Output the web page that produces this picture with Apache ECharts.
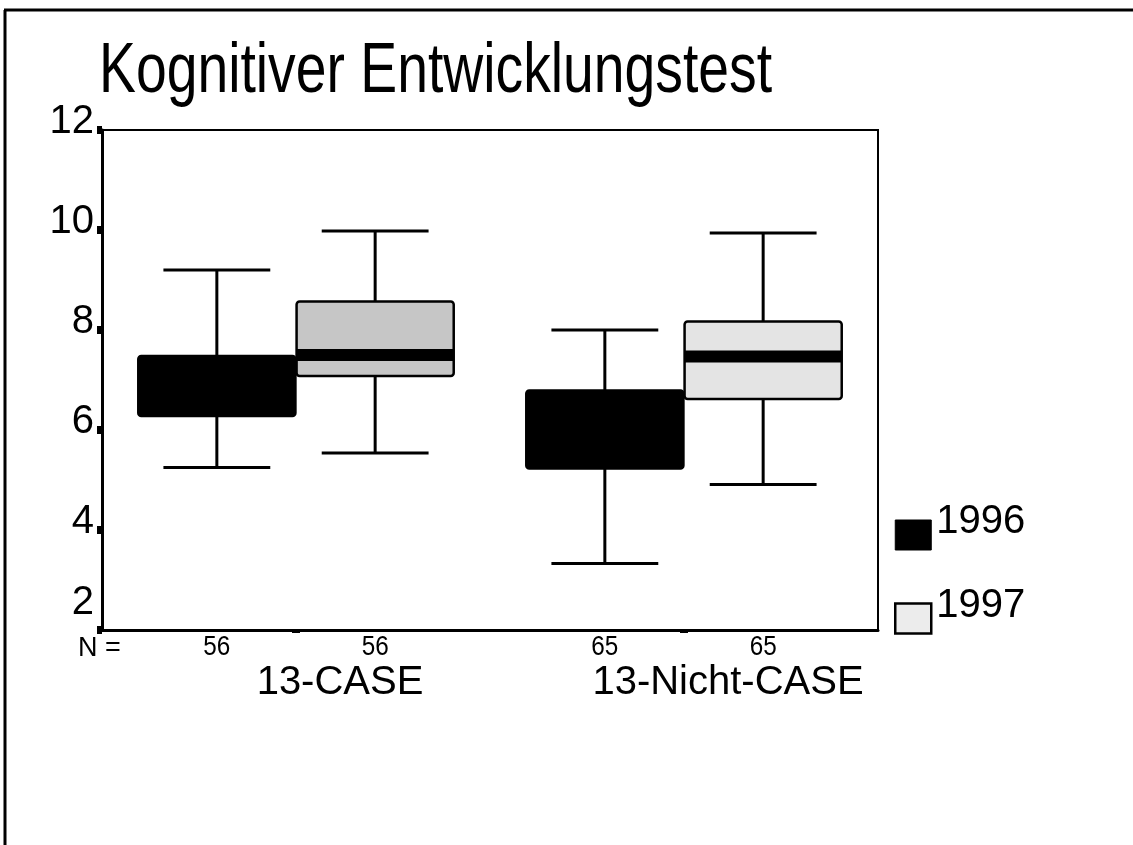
<!DOCTYPE html>
<html>
<head>
<meta charset="utf-8">
<script src="https://cdn.jsdelivr.net/npm/echarts@6/dist/echarts.min.js"></script>
<style>
html,body{margin:0;padding:0;background:#fff;}
#chart{width:1133px;height:845px;}
</style>
</head>
<body>
<div id="chart"></div>
<script>
// ---- data ----
const titleText = 'Kognitiver Entwicklungstest';
const categories = ['13-CASE', '13-Nicht-CASE'];
const seriesNames = ['1996', '1997'];
// [min, q1, median, q3, max]
const stats1996 = [[5.25, 6.28, 6.9, 7.48, 9.2], [3.33, 5.23, 6.0, 6.79, 8.0]];
const stats1997 = [[5.54, 7.08, 7.5, 8.57, 9.98], [4.91, 6.62, 7.47, 8.17, 9.94]];
const nCounts1996 = [56, 65];
const nCounts1997 = [56, 65];
const yTicks = [2, 4, 6, 8, 10, 12];

// ---- build ----
const FONT = "'Liberation Sans', Arial, sans-serif";
const chart = echarts.init(document.getElementById('chart'), null, {renderer: 'canvas'});

function rows(stats, ns) {
  return stats.map((s, i) => [i, s[0], s[1], s[2], s[3], s[4], ns[i]]);
}

const fills1997 = ['#c6c6c6', '#e4e4e4'];

function makeRender(side, isDark) {
  return function (params, api) {
    const cat = api.value(0);
    const band = api.size([1, 0])[0];
    const bw = band * 0.405;
    const cx = api.coord([cat, 0])[0] + side * band * 0.204;
    const yv = i => api.coord([cat, api.value(i)])[1];
    const yMin = yv(1), yQ1 = yv(2), yMed = yv(3), yQ3 = yv(4), yMax = yv(5);
    const capW = bw * 0.68;
    const yBase = api.coord([cat, yTicks[0]])[1];
    const lineStyle = {stroke: '#000', lineWidth: 3};
    const fill = isDark ? '#000' : fills1997[cat];
    return {
      type: 'group',
      children: [
        {type: 'line', shape: {x1: cx, y1: yMax, x2: cx, y2: yQ3}, style: lineStyle},
        {type: 'line', shape: {x1: cx, y1: yQ1, x2: cx, y2: yMin}, style: lineStyle},
        {type: 'line', shape: {x1: cx - capW / 2, y1: yMax, x2: cx + capW / 2, y2: yMax}, style: lineStyle},
        {type: 'line', shape: {x1: cx - capW / 2, y1: yMin, x2: cx + capW / 2, y2: yMin}, style: lineStyle},
        {type: 'rect', shape: {x: cx - bw / 2, y: yQ3, width: bw, height: yQ1 - yQ3, r: 3},
          style: {fill: fill, stroke: '#000', lineWidth: 2.5}},
        {type: 'rect', shape: {x: cx - bw / 2, y: yMed - 6, width: bw, height: 12},
          style: {fill: '#000'}},
        {type: 'text', x: cx, y: yBase + 18, scaleX: 0.9,
          style: {text: String(api.value(6)), fontFamily: FONT, fontSize: 27, fill: '#000',
            align: 'center', verticalAlign: 'middle'}}
      ]
    };
  };
}

const option = {
  backgroundColor: '#fff',
  animation: false,
  legend: {
    orient: 'vertical',
    left: 889, top: 497,
    itemWidth: 36, itemHeight: 30, itemGap: 35,
    icon: 'rect',
    formatter: '{t|{name}}',
    textStyle: {
      fontFamily: FONT, fontSize: 40, color: '#000',
      rich: {t: {fontFamily: FONT, fontSize: 40, color: '#000', padding: [0, 0, 26, 0]}}
    },
    data: [
      {name: seriesNames[0], itemStyle: {color: '#000', borderColor: '#000', borderWidth: 1}},
      {name: seriesNames[1], itemStyle: {color: '#ececec', borderColor: '#000', borderWidth: 2.5}}
    ]
  },
  grid: {left: 102, top: 130, width: 776, height: 500, show: true, borderColor: '#000', borderWidth: 2},
  xAxis: {
    type: 'category',
    data: categories,
    axisLine: {lineStyle: {color: '#000', width: 3}},
    axisTick: {show: true, alignWithLabel: true, length: 3, lineStyle: {color: '#000', width: 8}},
    axisLabel: {fontFamily: FONT, fontSize: 40, color: '#000', margin: 33, padding: [0, 0, 0, 88]},
    splitLine: {show: false}
  },
  yAxis: {
    type: 'value',
    min: 2, max: 12, interval: 2,
    axisLine: {show: true, lineStyle: {color: '#000', width: 3}},
    axisTick: {show: true, length: 5, lineStyle: {color: '#000', width: 8}},
    axisLabel: {
      fontFamily: FONT, fontSize: 40, color: '#000', margin: 8,
      formatter: v => yTicks.indexOf(v) >= 0 ? (v === yTicks[0] ? '{low|' + v + '}' : '{n|' + v + '}') : '',
      rich: {
        n: {fontFamily: FONT, fontSize: 40, color: '#000', padding: [0, 0, 16, 0]},
        low: {fontFamily: FONT, fontSize: 40, color: '#000', padding: [0, 0, 54, 0]}
      }
    },
    splitLine: {show: false}
  },
  graphic: [
    {type: 'line', shape: {x1: 4, y1: 10, x2: 1133, y2: 10}, style: {stroke: '#000', lineWidth: 3}},
    {type: 'line', shape: {x1: 5, y1: 10, x2: 5, y2: 845}, style: {stroke: '#000', lineWidth: 3}},
    {type: 'text', x: 99, y: 38, scaleX: 0.79,
      style: {text: titleText, fontFamily: FONT, fontSize: 70, fill: '#000'}},
    {type: 'text', left: 78, top: 635, style: {text: 'N =', fontFamily: FONT, fontSize: 27, fill: '#000'}}
  ],
  series: [
    {
      name: seriesNames[0], type: 'custom',
      itemStyle: {color: '#000'},
      renderItem: makeRender(-1, true),
      encode: {x: 0, y: [1, 2, 3, 4, 5]},
      data: rows(stats1996, nCounts1996)
    },
    {
      name: seriesNames[1], type: 'custom',
      itemStyle: {color: '#ececec', borderColor: '#000', borderWidth: 2.5},
      renderItem: makeRender(1, false),
      encode: {x: 0, y: [1, 2, 3, 4, 5]},
      data: rows(stats1997, nCounts1997)
    }
  ]
};
chart.setOption(option);
</script>
</body>
</html>
